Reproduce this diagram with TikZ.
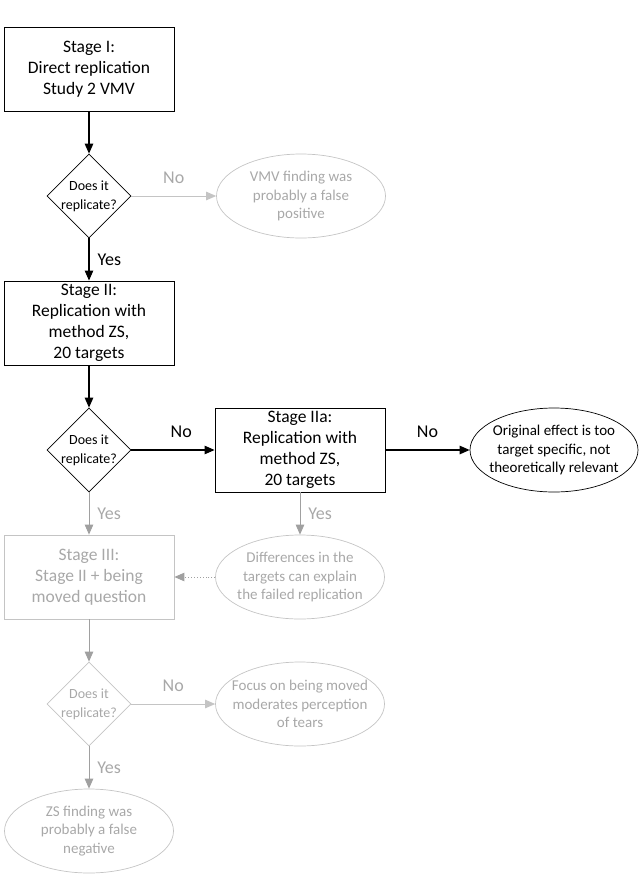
\documentclass[tikz,border=0pt]{standalone}
\usepackage{fontspec}
\setmainfont{Carlito}
\usetikzlibrary{shapes.geometric,arrows.meta}
\definecolor{lightline}{HTML}{C4C4C4}
\definecolor{lighttext}{HTML}{A8A8A8}
\definecolor{midgray}{HTML}{A0A0A0}
\tikzset{
  box/.style={draw, line width=0.9pt, minimum width=170pt, minimum height=84pt, align=center, font=\fontsize{17.5}{20.8}\selectfont, inner sep=0pt},
  dec/.style={draw, diamond, aspect=1, minimum width=84pt, minimum height=84pt, inner sep=0pt, line width=0.7pt},
  dectext/.style={align=center, font=\fontsize{14}{19}\selectfont, inner sep=0pt},
  oval/.style={draw, ellipse, minimum width=169pt, minimum height=84pt, inner sep=0pt, line width=0.7pt},
  ovaltext/.style={align=center, font=\fontsize{15}{18.8}\selectfont, inner sep=0pt},
  arr/.style={-{Triangle[length=10pt,width=8.5pt]}, line width=1.1pt},
  larr/.style={arr, draw=lightline, line width=0.9pt},
  lbl/.style={font=\fontsize{18}{20}\selectfont, inner sep=0pt},
  light/.style={draw=lightline, text=lighttext},
}
\begin{document}
\begin{tikzpicture}[x=1pt,y=-1pt]
\useasboundingbox (0,0) rectangle (640,876);
% nodes
\node[box] (s1) at (89,69) {Stage I:\\Direct replication\\Study 2 VMV};
\node[dec] (d1) at (89,196) {};
\node[dectext] at (d1) {Does it\\replicate?};
\node[oval, light] (e1) at (301,196) {};
\node[ovaltext, text=lighttext] at (e1) {VMV finding was\\probably a false\\positive};
\node[box] (s2) at (89,323) {Stage II:\\Replication with\\method ZS,\\20 targets};
\node[dec] (d2) at (89,450) {};
\node[dectext] at (d2) {Does it\\replicate?};
\node[box] (s2a) at (300,450) {Stage IIa:\\Replication with\\method ZS,\\20 targets};
\node[oval, minimum width=168pt] (e2) at (554,450) {};
\node[ovaltext] at (e2) {Original effect is too\\target specific, not\\theoretically relevant};
\node[box, light, line width=0.8pt] (s3) at (89,577) {Stage III:\\Stage II + being\\moved question};
\node[oval, light] (e3) at (300,577) {};
\node[ovaltext, text=lighttext] at (e3) {Differences in the\\targets can explain\\the failed replication};
\node[dec, light] (d3) at (89,704) {};
\node[dectext, text=lighttext] at (d3) {Does it\\replicate?};
\node[oval, light] (e4) at (300,704) {};
\node[ovaltext, text=lighttext] at (e4) {Focus on being moved\\moderates perception\\of tears};
\node[oval, light] (e5) at (89,831) {};
\node[ovaltext, text=lighttext] at (e5) {ZS finding was\\probably a false\\negative};
% connectors
\draw[arr] (s1) -- (d1);
\draw[larr] (d1) -- node[lbl, text=lighttext, above=12pt, pos=0.5] {No} (e1);
\draw[arr] (d1) -- node[lbl, right=8pt, pos=0.5] {Yes} (s2);
\draw[arr] (s2) -- (d2);
\draw[arr] (d2) -- node[lbl, above=12pt, pos=0.6] {No} (s2a);
\draw[arr] (s2a) -- node[lbl, above=12pt, pos=0.5] {No} (e2);
\draw[larr, draw=midgray] (d2) -- node[lbl, text=lighttext, right=8pt] {Yes} (s3);
\draw[larr, draw=midgray] (s2a) -- node[lbl, text=lighttext, right=8pt] {Yes} (e3);
\draw[larr, dotted, draw=midgray] (e3) -- (s3);
\draw[larr, draw=midgray] (s3) -- (d3);
\draw[larr] (d3) -- node[lbl, text=lighttext, above=12pt, pos=0.5] {No} (e4);
\draw[larr, draw=midgray] (d3) -- node[lbl, text=lighttext, right=8pt] {Yes} (e5);
\end{tikzpicture}
\end{document}
